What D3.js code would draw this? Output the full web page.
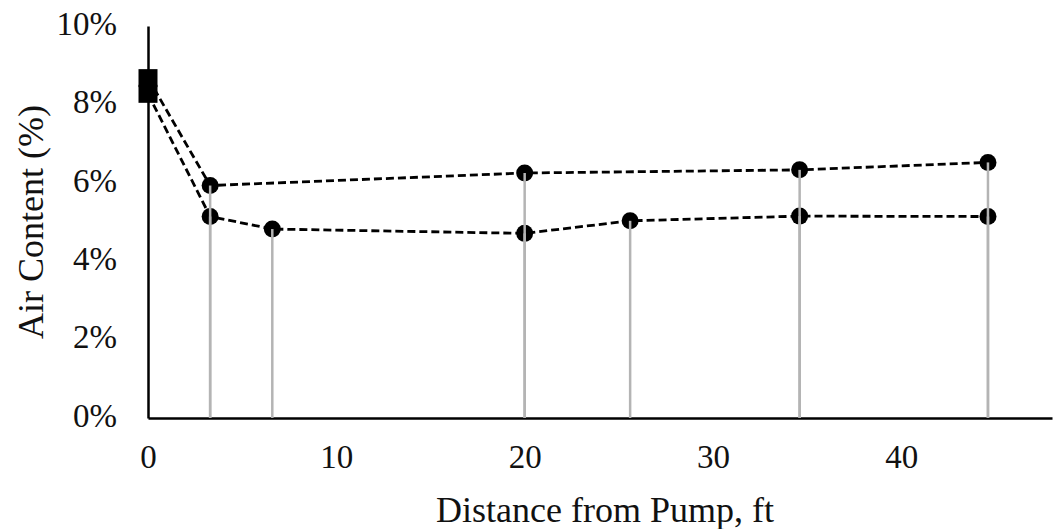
<!DOCTYPE html>
<html>
<head>
<meta charset="utf-8">
<script src="https://cdn.jsdelivr.net/npm/d3@7"></script>
<style>
  body { margin: 0; background: #fff; }
  text { font-family: "Liberation Serif", "Times New Roman", serif; fill: #111; }
</style>
</head>
<body>
<div id="chart"></div>
<script>
// Air content readings along the line, two sample sets
const distUpper = [0, 3.3, 20, 34.6, 44.6];
const airUpper = [8.67, 5.93, 6.25, 6.33, 6.52];
const distLower = [0, 3.3, 6.6, 20, 25.6, 34.6, 44.6];
const airLower = [8.27, 5.14, 4.82, 4.71, 5.03, 5.15, 5.14];

const xTicks = [0, 10, 20, 30, 40];
const yTicks = [0, 2, 4, 6, 8, 10];

// Setup
const svgWidth = 1055;
const svgHeight = 529;

const svg = d3.select("#chart")
    .append("svg")
    .attr("width", svgWidth)
    .attr("height", svgHeight);

const x = d3.scaleLinear()
    .domain([0, 48])
    .range([148, 1052]);

const y = d3.scaleLinear()
    .domain([0, 10])
    .range([418, 26]);

const upper = distUpper.map((d, i) => ({ x: d, y: airUpper[i] }));
const lower = distLower.map((d, i) => ({ x: d, y: airLower[i] }));

// Axes
const xAxis = svg.append("g")
    .attr("transform", "translate(0,418)")
    .call(d3.axisBottom(x).tickValues(xTicks).tickSize(0).tickSizeOuter(0).tickPadding(27));

const yAxis = svg.append("g")
    .attr("transform", "translate(148,0)")
    .call(d3.axisLeft(y).tickValues(yTicks).tickSize(0).tickSizeOuter(0).tickPadding(31)
      .tickFormat(d => d + "%"));

[xAxis, yAxis].forEach(a => {
  a.select(".domain").attr("stroke", "#000").attr("stroke-width", 2.5);
  a.selectAll("text").attr("font-size", 33).attr("font-family", "Liberation Serif").attr("fill", "#111");
});
yAxis.selectAll("text").attr("dy", "0.25em");

// Dashed series lines
const line = d3.line().x(d => x(d.x)).y(d => y(d.y));

[upper, lower].forEach(series => {
  svg.append("path")
      .datum(series)
      .attr("fill", "none")
      .attr("stroke", "#000")
      .attr("stroke-width", 2.8)
      .attr("stroke-dasharray", "8,4")
      .attr("d", line);
});

// Markers: squares at the pump, circles elsewhere
[upper, lower].forEach(series => {
  svg.selectAll(null)
      .data(series.slice(1))
      .enter().append("circle")
      .attr("cx", d => x(d.x))
      .attr("cy", d => y(d.y))
      .attr("r", 8.5)
      .attr("fill", "#000");

  svg.append("rect")
      .attr("x", x(series[0].x) - 9.5)
      .attr("y", y(series[0].y) - 9)
      .attr("width", 19)
      .attr("height", 18)
      .attr("fill", "#000");
});

// Drop lines to the axis
svg.selectAll(null)
    .data(upper.concat(lower).filter(d => d.x > 0))
    .enter().append("line")
    .attr("x1", d => x(d.x))
    .attr("x2", d => x(d.x))
    .attr("y1", d => y(d.y))
    .attr("y2", y(0))
    .attr("stroke", "#b4b4b4")
    .attr("stroke-width", 2.5);

// Axis titles
svg.append("text")
    .attr("x", 605)
    .attr("y", 522)
    .attr("text-anchor", "middle")
    .attr("font-size", 36)
    .text("Distance from Pump, ft");

svg.append("text")
    .attr("transform", "translate(43,222) rotate(-90)")
    .attr("text-anchor", "middle")
    .attr("font-size", 36)
    .text("Air Content (%)");
</script>
</body>
</html>
